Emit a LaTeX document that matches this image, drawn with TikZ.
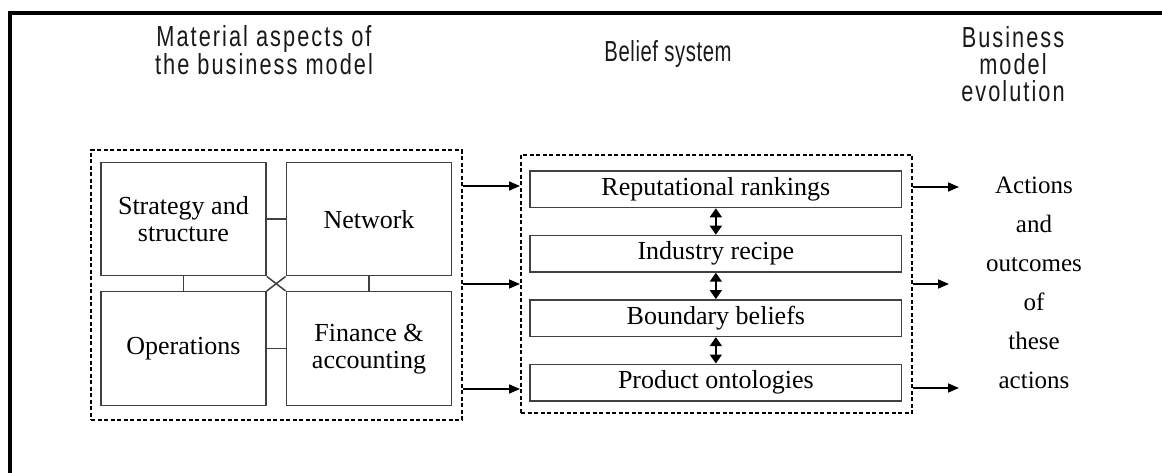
\documentclass[tikz,border=0pt]{standalone}
\usepackage{fontspec}
\setmainfont{Liberation Serif}
\newfontfamily\hdrfont[FakeStretch=0.75,LetterSpace=7]{Liberation Sans}
\newfontfamily\hdrfontb[FakeStretch=0.7,LetterSpace=2]{Liberation Sans}
\usetikzlibrary{arrows.meta}
\tikzset{
  hdr/.style={font=\hdrfont\fontsize{29}{27}\selectfont, align=center, inner sep=0pt, text=black!90},
  hdrb/.style={font=\hdrfontb\fontsize{29}{27}\selectfont, align=center, inner sep=0pt, text=black!90},
  matbox/.style={draw=black!75, line width=1.5pt, minimum width=165.3pt, minimum height=113pt, inner sep=0pt, align=center, font=\fontsize{26}{27}\selectfont},
  belbox/.style={draw=black!75, line width=1.5pt, minimum width=371.7pt, minimum height=36.5pt, inner sep=0pt, font=\fontsize{26}{27}\selectfont},
  dotbox/.style={draw=black, line width=2pt, dash pattern=on 4pt off 2.5pt, inner sep=0pt},
  link/.style={draw=black!75, line width=1.5pt},
  arr/.style={line width=1.6pt, -{Triangle[length=11pt,width=9pt]}},
  darr/.style={line width=1.6pt, {Triangle[length=9pt,width=12pt]}-{Triangle[length=9pt,width=12pt]}},
}
\begin{document}
\begin{tikzpicture}[x=1pt,y=-1pt]
\useasboundingbox (0,0) rectangle (1162,473);
% frame
\draw[line width=4pt] (10,473) -- (10,13) -- (1162,13);
% headers
\node[hdr] (h1) at (264,50) {Material aspects of\\the business model};
\node[hdrb] (h2) at (668,54) {Belief system};
\node[hdr] (h3) at (1013,64) {Business\\model\\evolution};
% material aspects
\node[dotbox, minimum width=370.7pt, minimum height=270pt] (matL) at (276.35,285) {};
\node[matbox] (tl) at (183.4,219.2) {Strategy and\\structure};
\node[matbox] (tr) at (369,219.2) {Network};
\node[matbox, minimum height=114pt] (bl) at (183.4,348.7) {Operations};
\node[matbox, minimum height=114pt] (br) at (369,348.7) {Finance \&\\accounting};
\draw[link] (tl.east) -- (tr.west);
\draw[link] (bl.east) -- (br.west);
\draw[link] (tl.south) -- (bl.north);
\draw[link] (tr.south) -- (br.north);
\draw[link] (tl.south east) -- (br.north west);
\draw[link] (tr.south west) -- (bl.north east);
% belief system
\node[dotbox, minimum width=390.7pt, minimum height=258.3pt] (bel) at (716.35,284.15) {};
\node[belbox] (rep) at (715.85,189.3) {Reputational rankings};
\node[belbox] (ind) at (715.85,253.7) {Industry recipe};
\node[belbox] (bnd) at (715.85,318.1) {Boundary beliefs};
\node[belbox] (prd) at (715.85,382.5) {Product ontologies};
\draw[darr] (rep.south) -- (ind.north);
\draw[darr] (ind.south) -- (bnd.north);
\draw[darr] (bnd.south) -- (prd.north);
% arrows between groups
\coordinate (y1) at (0,186);
\coordinate (y2) at (0,284);
\coordinate (y3) at (0,389);
\draw[arr] (matL.east |- y1) -- (bel.west |- y1);
\draw[arr] (matL.east |- y2) -- (bel.west |- y2);
\draw[arr] (matL.east |- y3) -- (bel.west |- y3);
% outcomes
\coordinate (o1) at (959,187);
\coordinate (o2) at (949,284);
\coordinate (o3) at (959,388);
\draw[arr] (bel.east |- o1) -- (o1);
\draw[arr] (bel.east |- o2) -- (o2);
\draw[arr] (bel.east |- o3) -- (o3);
\node[align=center, inner sep=0pt, font=\fontsize{25}{39}\selectfont] (out) at (1034,283) {Actions\\and\\outcomes\\of\\these\\actions};
\end{tikzpicture}
\end{document}
